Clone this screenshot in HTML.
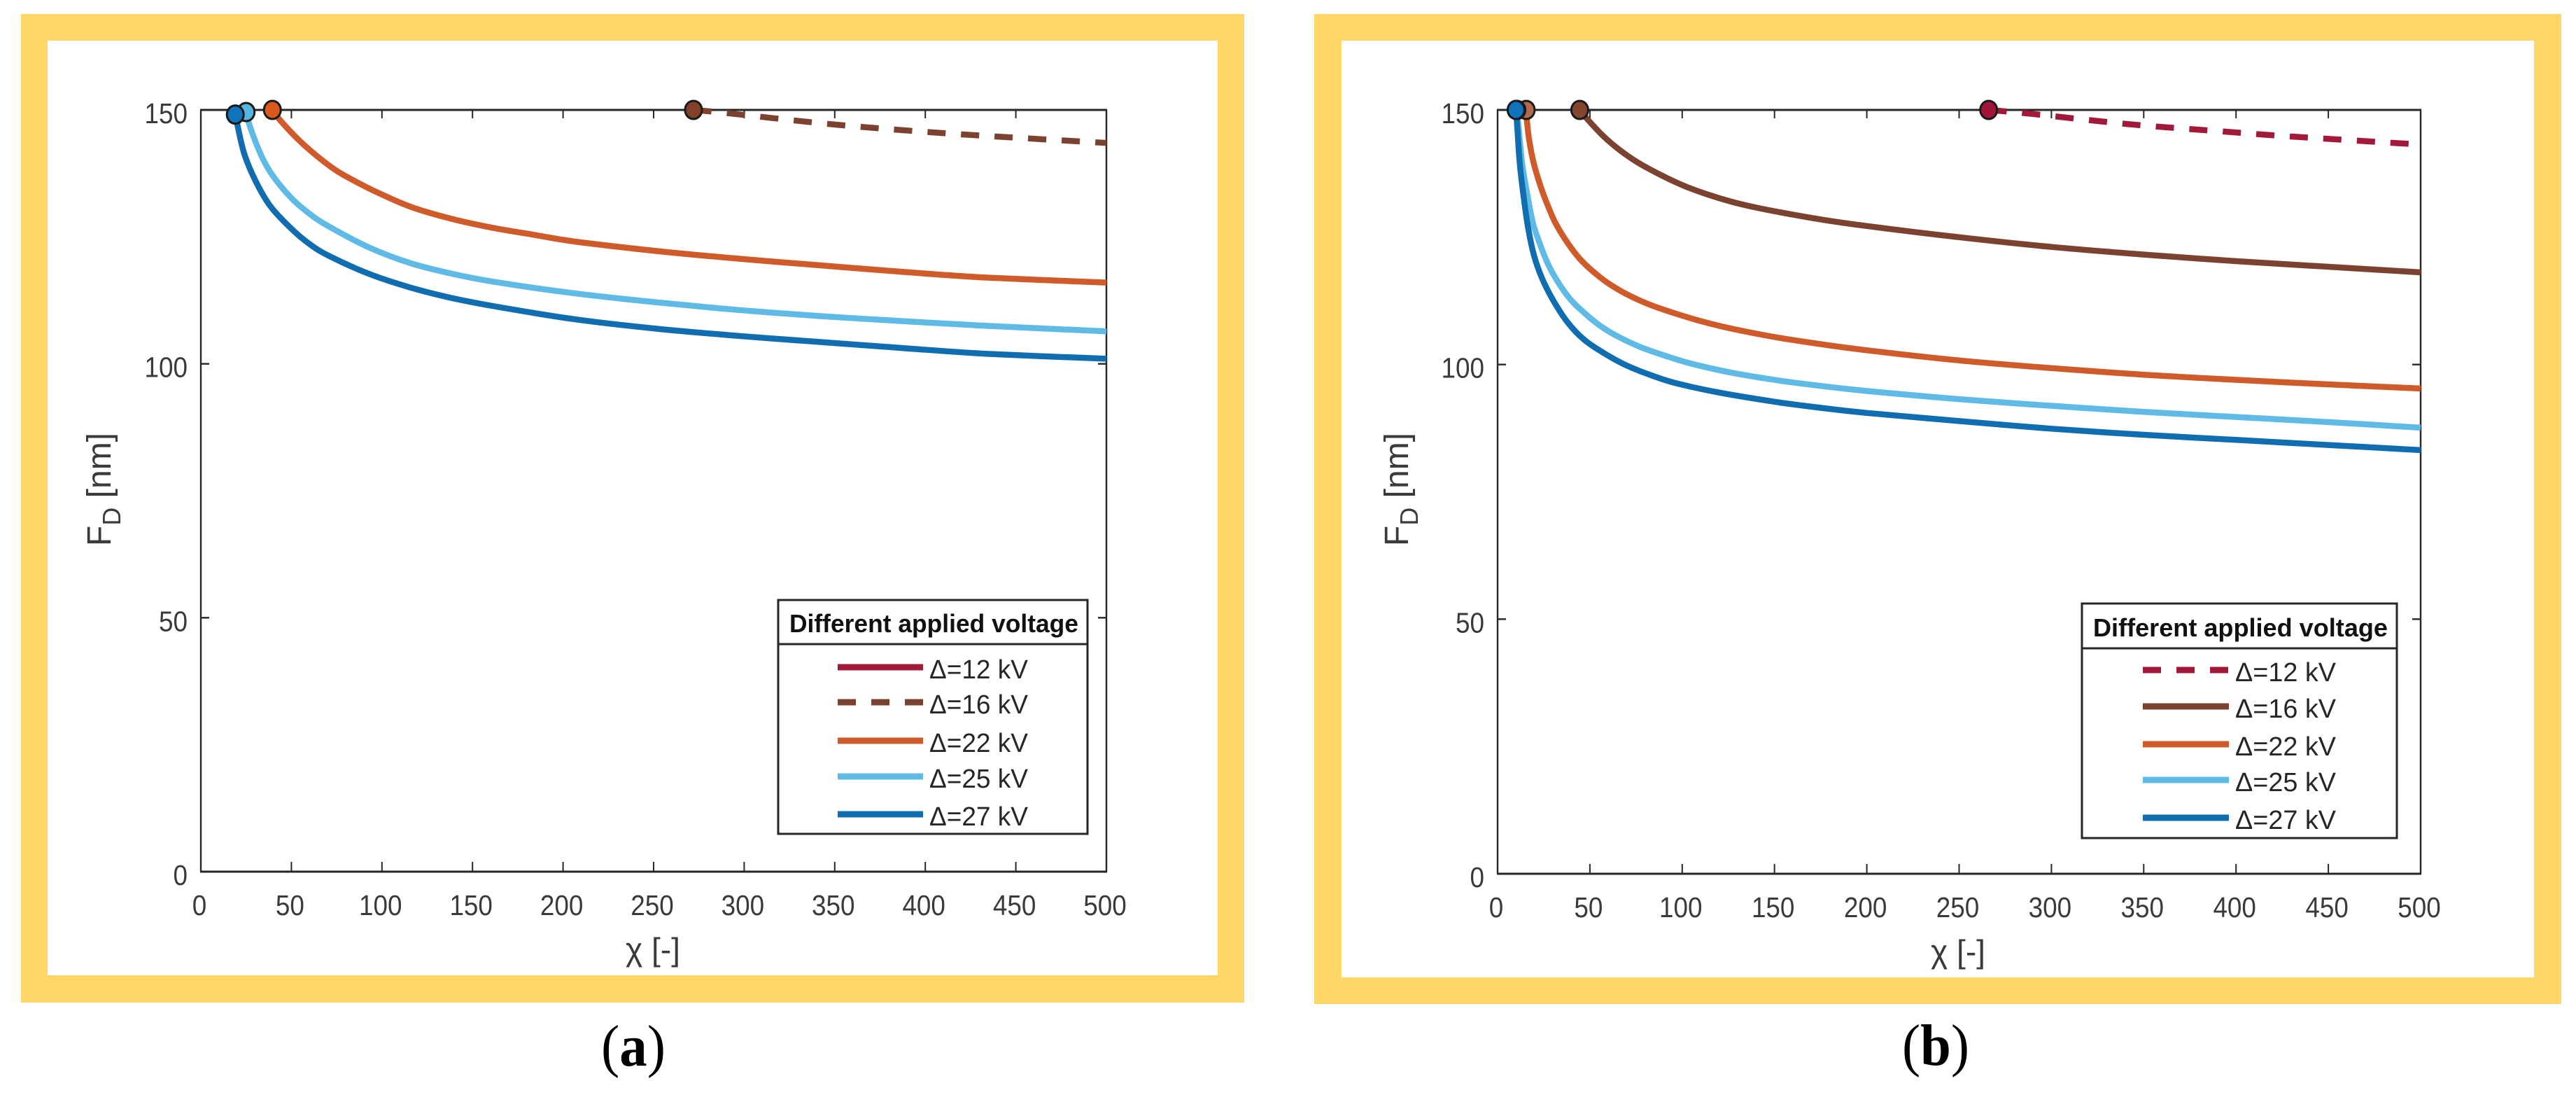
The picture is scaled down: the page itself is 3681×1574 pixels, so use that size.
<!DOCTYPE html>
<html lang="en">
<head>
<meta charset="utf-8">
<title>FD versus chi at different applied voltages</title>
<style>
html,body{margin:0;padding:0;background:#fff;width:3681px;height:1574px;overflow:hidden}
svg{display:block}
text{font-family:"Liberation Sans",sans-serif}
</style>
</head>
<body>
<svg id="figure" xmlns="http://www.w3.org/2000/svg" width="3681" height="1574" viewBox="0 0 3681 1574">
  <rect x="0" y="0" width="3681" height="1574" fill="#ffffff"/>
  <path fill="#fed766" fill-rule="evenodd" d="M30 20H1778V1432H30ZM68 58V1393H1740V58Z"/>
  <path fill="#fed766" fill-rule="evenodd" d="M1878 20H3660V1434H1878ZM1917 58V1396H3621V58Z"/>
  <text x="859" y="1522" textLength="92" lengthAdjust="spacingAndGlyphs" font-size="84" fill="#000" style="font-family:'Liberation Serif',serif">(<tspan font-weight="bold">a</tspan>)</text>
  <text x="2718" y="1521" textLength="96" lengthAdjust="spacingAndGlyphs" font-size="84" fill="#000" style="font-family:'Liberation Serif',serif">(<tspan font-weight="bold">b</tspan>)</text>
</svg>
<script>
// ---------- shared axis data ----------
const chiTicks = [0, 50, 100, 150, 200, 250, 300, 350, 400, 450, 500];
const fdTicks = [0, 50, 100, 150];
const chiMax = 500;
const fdMax = 150;
const legendTitle = "Different applied voltage";
const legendLabels = ["\u0394=12 kV", "\u0394=16 kV", "\u0394=22 kV", "\u0394=25 kV", "\u0394=27 kV"];

// ---------- panel (a) series: chi, FD ----------
const aChi16 = [272, 290, 342, 388, 433, 500];
const aFd16 = [150, 149.4, 147.4, 146, 144.9, 143.5];
const aChi22 = [39.5, 43.7, 54, 64.2, 74.6, 84.9, 97.8, 116, 138, 161, 184, 206, 252, 297, 342, 388, 433, 500];
const aFd22 = [150, 148, 144.1, 140.9, 138.1, 136, 133.7, 130.9, 128.6, 126.8, 125.4, 124.1, 122.2, 120.7, 119.4, 118.1, 117, 116];
const aChi25 = [25, 26.9, 33.4, 39.8, 50.1, 59.1, 70, 93, 116, 138, 161, 206, 252, 297, 342, 388, 433, 500];
const aFd25 = [150, 147, 141, 137, 132.6, 129.8, 127.2, 122.9, 119.8, 117.8, 116.2, 113.9, 112.1, 110.6, 109.4, 108.4, 107.5, 106.4];
const aChi27 = [19, 20.5, 24.3, 30.8, 38.5, 50, 60, 70.5, 93, 116, 138, 161, 206, 252, 297, 342, 388, 433, 500];
const aFd27 = [149.5, 146.5, 141, 135.6, 131, 126.6, 123.6, 121.3, 117.7, 115, 113, 111.4, 108.8, 106.9, 105.5, 104.3, 103.1, 102, 101];

// ---------- panel (b) series: chi, FD ----------
const bChi12 = [266, 290, 342, 388, 433, 500];
const bFd12 = [150, 149.2, 147.2, 145.9, 144.7, 143.2];
const bChi16 = [44.5, 48.6, 56.9, 65.7, 75.8, 88.5, 101, 113.7, 126.4, 139, 151.6, 175, 200, 250, 300, 350, 400, 450, 500];
const bFd16 = [150, 148.2, 145, 142.25, 139.7, 137.2, 135.1, 133.4, 132, 130.9, 130, 128.5, 127.2, 125, 123.1, 121.6, 120.3, 119.2, 118.1];
const bChi22 = [15.5, 15.8, 17.1, 19.6, 23.4, 27.2, 31.6, 37.9, 44.2, 50.5, 59.4, 69.5, 82.1, 94.8, 107.4, 120, 132.7, 151.6, 175, 200, 250, 300, 350, 400, 450, 500];
const bFd22 = [150, 148.2, 144.1, 139.5, 134.9, 131.2, 127.6, 123.9, 120.9, 118.65, 116.1, 113.9, 111.8, 110.2, 108.8, 107.6, 106.6, 105.3, 104, 102.8, 100.8, 99.3, 98, 97, 96.1, 95.3];
const bChi25 = [10.5, 11.4, 13.3, 15.8, 19, 22.7, 27.2, 32.9, 39.2, 46.8, 55.6, 65.7, 78.3, 91, 103.6, 120, 132.7, 151.6, 175, 200, 250, 300, 350, 400, 450, 500];
const bFd25 = [150, 146.4, 139.5, 134, 128, 123.9, 119.8, 116.1, 112.9, 110.2, 107.6, 105.4, 103.3, 101.7, 100.3, 98.9, 98, 96.9, 95.8, 94.8, 93.2, 91.9, 90.7, 89.7, 88.7, 87.6];
const bChi27 = [10, 10.7, 12, 13.9, 16.4, 19.6, 24, 30.3, 37.9, 46.8, 56.9, 68.2, 80.9, 96, 120, 150, 175, 200, 250, 300, 350, 400, 450, 500];
const bFd27 = [150, 146.4, 139.5, 133.5, 127.1, 121.6, 117, 112.5, 108.3, 104.9, 102.4, 100.1, 98.2, 96.4, 94.5, 92.7, 91.5, 90.5, 88.9, 87.4, 86.2, 85.2, 84.2, 83.2];

// ---------- styling (not data) ----------
const styleCrimson = "#a2193a";
const styleBrown = "#7c4230";
const styleOrange = "#cf5a2a";
const styleSky = "#5fbbe6";
const styleBlue = "#0f6db0";
const dash = "26 22";

const svg = document.getElementById("figure");
const NS = "http://www.w3.org/2000/svg";

function mk(parent, tag, attrs) {
  const el = document.createElementNS(NS, tag);
  for (const k in attrs) el.setAttribute(k, attrs[k]);
  parent.appendChild(el);
  return el;
}
function smoothPath(pts) {
  let d = "M" + pts[0][0].toFixed(1) + " " + pts[0][1].toFixed(1);
  for (let i = 0; i < pts.length - 1; i++) {
    const p0 = pts[Math.max(i - 1, 0)], p1 = pts[i], p2 = pts[i + 1], p3 = pts[Math.min(i + 2, pts.length - 1)];
    const c1x = p1[0] + (p2[0] - p0[0]) / 6, c1y = p1[1] + (p2[1] - p0[1]) / 6;
    const c2x = p2[0] - (p3[0] - p1[0]) / 6, c2y = p2[1] - (p3[1] - p1[1]) / 6;
    d += "C" + c1x.toFixed(1) + " " + c1y.toFixed(1) + " " + c2x.toFixed(1) + " " + c2y.toFixed(1) + " " + p2[0].toFixed(1) + " " + p2[1].toFixed(1);
  }
  return d;
}

function drawPanel(cfg) {
  const id = cfg.id;
  const xS = v => cfg.left + (v / chiMax) * (cfg.right - cfg.left);
  const yS = v => cfg.bottom - (v / fdMax) * (cfg.bottom - cfg.top);
  const g = mk(svg, "g", {});
  
  

  const clipId = "clip-" + id;
  const defs = mk(g, "defs", {});
  const cp = mk(defs, "clipPath", { id: clipId });
  mk(cp, "rect", { x: cfg.left, y: cfg.top - 30, width: cfg.right - cfg.left + 1, height: cfg.bottom - cfg.top + 30 });

  // axis box
  const ink = "#262626";
  const axisLeft = mk(g, "line", { x1: cfg.left, x2: cfg.left, y1: cfg.top, y2: cfg.bottom, stroke: ink, "stroke-width": 2.4 });
  
  
  const axisRight = mk(g, "line", { x1: cfg.right, x2: cfg.right, y1: cfg.top, y2: cfg.bottom, stroke: ink, "stroke-width": 2.4 });
  
  
  const axisTop = mk(g, "line", { x1: cfg.left - 1, x2: cfg.right + 1, y1: cfg.top, y2: cfg.top, stroke: ink, "stroke-width": 3 });
  
  
  const axisBottom = mk(g, "line", { x1: cfg.left - 1, x2: cfg.right + 1, y1: cfg.bottom, y2: cfg.bottom, stroke: ink, "stroke-width": 3 });
  
  

  // x ticks + labels
  chiTicks.forEach(v => {
    const x = xS(v);
    if (v > 0 && v < chiMax) {
      const t1 = mk(g, "line", { x1: x, x2: x, y1: cfg.bottom, y2: cfg.bottom - 14, stroke: ink, "stroke-width": 2 });
      
      
      const t2 = mk(g, "line", { x1: x, x2: x, y1: cfg.top, y2: cfg.top + 12, stroke: ink, "stroke-width": 2 });
      
      
    }
    const s = String(v);
    const lab = mk(g, "text", { x: x - 2, y: cfg.bottom + 62, "text-anchor": "middle", "font-size": 41, fill: "#3a3a3a", textLength: s.length * 20.5, lengthAdjust: "spacingAndGlyphs" });
    lab.textContent = s;
    
    
  });

  // y ticks + labels
  fdTicks.forEach(v => {
    const y = yS(v);
    if (v > 0 && v < fdMax) {
      const t1 = mk(g, "line", { x1: cfg.left, x2: cfg.left + 12, y1: y, y2: y, stroke: ink, "stroke-width": 2.4 });
      
      
      const t2 = mk(g, "line", { x1: cfg.right, x2: cfg.right - 12, y1: y, y2: y, stroke: ink, "stroke-width": 2.4 });
      
      
    }
    const s = String(v);
    const lab = mk(g, "text", { x: cfg.left - 19, y: y + 19, "text-anchor": "end", "font-size": 41, fill: "#3a3a3a", textLength: s.length * 20.5, lengthAdjust: "spacingAndGlyphs" });
    lab.textContent = s;
    
    
  });

  // axis titles
  const xt = mk(g, "text", { x: cfg.xTitleX, y: cfg.bottom + 127, "font-size": 46, fill: "#3a3a3a", textLength: 78, lengthAdjust: "spacingAndGlyphs" });
  
  
  xt.textContent = "\u03c7 [-]";
  const yt = mk(g, "text", { transform: "translate(" + cfg.yTitleX + ",780) rotate(-90)", "font-size": 48, fill: "#3a3a3a" });
  
  
  const t1 = mk(yt, "tspan", {}); t1.textContent = "F";
  const t2 = mk(yt, "tspan", { dy: 14, "font-size": 36 }); t2.textContent = "D";
  const t3 = mk(yt, "tspan", { dy: -14 }); t3.textContent = " [nm]";

  // curves (back to front)
  const curves = mk(g, "g", { "clip-path": "url(#" + clipId + ")" });
  
  
  cfg.series.forEach(s => {
    const pts = s.chi.map((c, i) => [xS(c), yS(s.fd[i])]);
    const attrs = { d: smoothPath(pts), fill: "none", stroke: s.color, "stroke-width": 8.5 };
    if (s.dashed) attrs["stroke-dasharray"] = dash;
    const p = mk(curves, "path", attrs);
    
    
  });

  // start markers
  cfg.series.forEach(s => {
    const m = mk(g, "ellipse", { cx: xS(s.chi[0]), cy: yS(s.fd[0]) + (s.markerDrop || 0), rx: 12, ry: 13, fill: s.marker, stroke: "#1a1a1a", "stroke-width": 3 });
    
    
  });

  // legend
  const L = cfg.legend;
  const lg = mk(g, "g", {});
  
  
  const box = mk(lg, "rect", { x: L.left, y: L.top, width: L.right - L.left, height: L.bottom - L.top, fill: "#fff", stroke: ink, "stroke-width": 3 });
  
  
  const div = mk(lg, "line", { x1: L.left, x2: L.right, y1: L.divider, y2: L.divider, stroke: ink, "stroke-width": 3 });
  
  
  const title = mk(lg, "text", { x: L.titleX, y: L.divider - 17, "font-size": 36, "font-weight": "bold", fill: "#111", textLength: L.titleW, lengthAdjust: "spacingAndGlyphs" });
  title.textContent = legendTitle;
  
  
  legendLabels.forEach((text, i) => {
    const s = cfg.legendStyles[i];
    const y = L.rows[i];
    const attrs = { x1: L.lineX1, x2: L.lineX2, y1: y, y2: y, stroke: s.color, "stroke-width": 9 };
    if (s.dashed) attrs["stroke-dasharray"] = dash;
    const sw = mk(lg, "line", attrs);
    
    
    const tx = mk(lg, "text", { x: L.textX, y: y + 16, "font-size": 38, fill: "#262626", textLength: L.textW, lengthAdjust: "spacingAndGlyphs" });
    tx.textContent = text;
    
    
  });
}

drawPanel({
  id: "a", left: 287, right: 1581, top: 157, bottom: 1245, xTitleX: 894, yTitleX: 158,
  series: [
    { name: "16kv", chi: aChi16, fd: aFd16, color: styleBrown, marker: "#83402a", dashed: true },
    { name: "22kv", chi: aChi22, fd: aFd22, color: styleOrange, marker: "#d95a1c" },
    { name: "25kv", chi: aChi25, fd: aFd25, color: styleSky, marker: "#55b6e4", markerDrop: 3 },
    { name: "27kv", chi: aChi27, fd: aFd27, color: styleBlue, marker: "#0f74bc", markerDrop: 3 }
  ],
  legendStyles: [
    { color: styleCrimson }, { color: styleBrown, dashed: true }, { color: styleOrange }, { color: styleSky }, { color: styleBlue }
  ],
  legend: { left: 1112, right: 1554, top: 857, bottom: 1191, divider: 920, titleX: 1128, titleW: 413, rows: [953, 1003, 1058, 1109, 1163], lineX1: 1197, lineX2: 1319, textX: 1328, textW: 141 }
});

drawPanel({
  id: "b", left: 2140, right: 3459, top: 157, bottom: 1248, xTitleX: 2759, yTitleX: 2012,
  series: [
    { name: "12kv", chi: bChi12, fd: bFd12, color: styleCrimson, marker: "#a2143a", dashed: true },
    { name: "16kv", chi: bChi16, fd: bFd16, color: styleBrown, marker: "#83462e" },
    { name: "22kv", chi: bChi22, fd: bFd22, color: styleOrange, marker: "#b5694b" },
    { name: "25kv", chi: bChi25, fd: bFd25, color: styleSky, marker: "#55b6e4" },
    { name: "27kv", chi: bChi27, fd: bFd27, color: styleBlue, marker: "#0f74bc" }
  ],
  legendStyles: [
    { color: styleCrimson, dashed: true }, { color: styleBrown }, { color: styleOrange }, { color: styleSky }, { color: styleBlue }
  ],
  legend: { left: 2975, right: 3425, top: 862, bottom: 1197, divider: 926, titleX: 2991, titleW: 421, rows: [957, 1009, 1063, 1114, 1168], lineX1: 3062, lineX2: 3185, textX: 3194, textW: 144 }
});
</script>
</body>
</html>
